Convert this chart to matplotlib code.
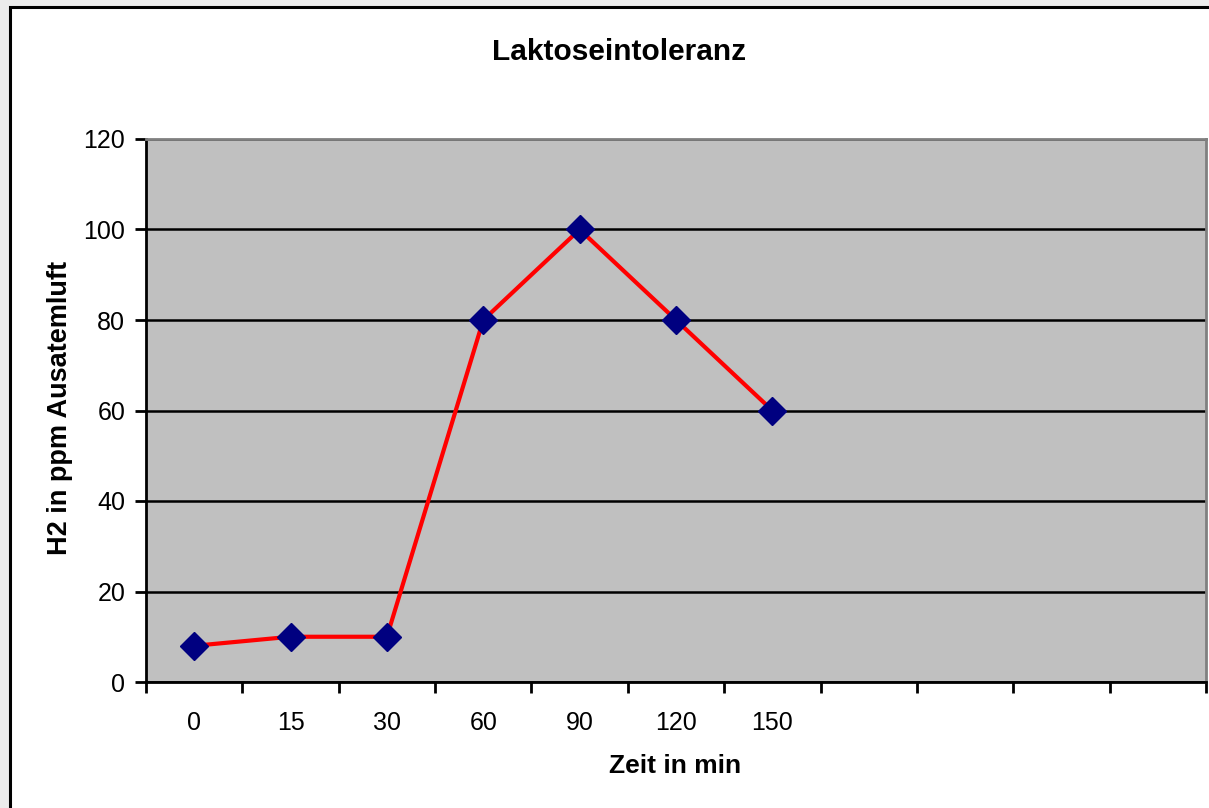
import matplotlib
matplotlib.use("Agg")
import matplotlib.pyplot as plt
from matplotlib.patches import Rectangle
import numpy as np

plt.rcParams['font.family'] = ['Liberation Sans', 'DejaVu Sans']

categories = ["0", "15", "30", "60", "90", "120", "150", "", "", "", ""]
values = [8, 10, 10, 80, 100, 80, 60]
y_ticks = [0, 20, 40, 60, 80, 100, 120]

W, H = 1209, 808
fig = plt.figure(figsize=(W / 100, H / 100), dpi=100)
fig.patch.set_facecolor('#ececec')

# chart area (white with black border, extends beyond image right/bottom)
fig.patches.append(Rectangle((10 / W, -0.05), 1.2, 1 - 7 / H + 0.05,
                             transform=fig.transFigure, facecolor='white',
                             edgecolor='black', linewidth=2.2, zorder=-10))

ax = fig.add_axes([146 / W, 1 - 682 / H, (1206 - 146) / W, (682 - 139) / H])
ax.set_facecolor('#c0c0c0')

x = np.arange(len(values))
ax.plot(x, values, color='#ff0000', linewidth=3, zorder=3)
ax.plot(x, values, linestyle='none', marker='D', markersize=14,
        markerfacecolor='#000080', markeredgecolor='#000080', zorder=4)

ax.set_xlim(-0.5, len(categories) - 0.5)
ax.set_ylim(0, 120)
ax.set_yticks(y_ticks)
ax.set_yticklabels([str(v) for v in y_ticks])
ax.yaxis.grid(True, color='black', linewidth=1.8)
ax.set_axisbelow(True)

ax.set_xticks(np.arange(len(categories)))
ax.set_xticklabels(categories)
ax.set_xticks(np.arange(-0.5, len(categories)), minor=True)
ax.tick_params(axis='x', which='major', length=0, pad=21, labelsize=18)
ax.tick_params(axis='x', which='minor', length=8, width=2, direction='out', color='black')
ax.tick_params(axis='y', length=8, width=2, direction='out', labelsize=18, pad=7)

for s in ['left', 'bottom']:
    ax.spines[s].set_color('black')
    ax.spines[s].set_linewidth(2)
for s in ['top', 'right']:
    ax.spines[s].set_color('#808080')
    ax.spines[s].set_linewidth(2)

fig.text(619 / W, 1 - 52 / H, "Laktoseintoleranz", ha='center', va='center',
         fontsize=21.5, fontweight='bold')
fig.text(675 / W, 1 - 766 / H, "Zeit in min", ha='center', va='center',
         fontsize=19, fontweight='bold')
fig.text(60 / W, 1 - 408 / H, "H2 in ppm Ausatemluft", ha='center', va='center',
         rotation=90, fontsize=19.5, fontweight='bold')

fig.savefig("out.png", dpi=100, facecolor=fig.get_facecolor())
